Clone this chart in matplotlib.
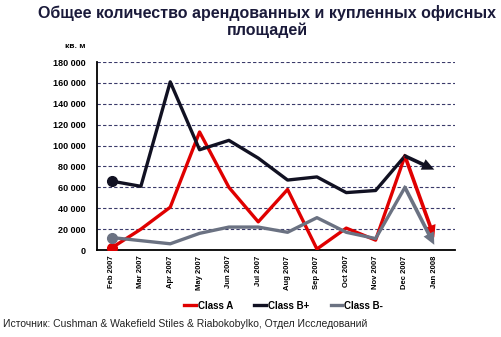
import matplotlib.pyplot as plt
import numpy as np

months = ['Feb 2007', 'Mar 2007', 'Apr 2007', 'May 2007', 'Jun 2007', 'Jul 2007',
          'Aug 2007', 'Sep 2007', 'Oct 2007', 'Nov 2007', 'Dec 2007', 'Jan 2008']
class_a = [2000, 20000, 41000, 113000, 60000, 27000, 58000, 1000, 21000, 9500, 90000, 12000]
class_bp = [66000, 61000, 161000, 96000, 105000, 88000, 67000, 70000, 55000, 57000, 90000, 77000]
class_bm = [12000, 9000, 6000, 16000, 22000, 22000, 17000, 31000, 17000, 11000, 60000, 5000]

series = [('Class A', class_a, '#e00000'),
          ('Class B+', class_bp, '#111122'),
          ('Class B-', class_bm, '#6b7282')]

plt.rcParams['font.family'] = ['Liberation Sans', 'DejaVu Sans']

fig = plt.figure(figsize=(5.02, 3.37), dpi=100)
ax = fig.add_axes([0.193, 0.258, 0.713, 0.558])

x = np.arange(len(months))
for name, vals, col in series:
    # line up to the second last point, last segment drawn as an arrow
    ax.plot(x[:-1], vals[:-1], color=col, lw=2.4, label=name, zorder=3)
    ax.plot(x[0], vals[0], 'o', color=col, ms=7, zorder=4)
    ax.annotate('', xy=(x[-1], vals[-1]), xytext=(x[-2], vals[-2]),
                arrowprops=dict(arrowstyle='simple,head_length=0.8,head_width=0.75,tail_width=0.24',
                                color=col, lw=0, mutation_scale=11,
                                shrinkA=0, shrinkB=0),
                zorder=4)

ax.set_xlim(-0.5, len(months) - 0.3)
ax.set_ylim(0, 180000)
ax.set_yticks(np.arange(0, 180001, 20000))
ax.set_yticklabels(['0'] + [f'{v // 1000} 000' for v in range(20000, 180001, 20000)],
                   fontsize=6.5, fontweight='bold')
ax.set_xticks(x)
ax.set_xticklabels(months, rotation=90, fontsize=5.5, fontweight='bold')
ax.tick_params(axis='x', length=0, pad=4)
ax.tick_params(axis='y', length=0, pad=8)
ax.grid(axis='y', linestyle=(0, (3, 2)), color='#3a3a6a', lw=0.8)
ax.set_axisbelow(True)
for s in ['top', 'right']:
    ax.spines[s].set_visible(False)
ax.spines['left'].set_linewidth(1.3)
ax.spines['bottom'].set_linewidth(1.3)

fig.text(0.532, 0.985, 'Общее количество арендованных и купленных офисных\nплощадей',
         ha='center', va='top', fontsize=11.5, fontweight='bold', color='#1a1a3a',
         linespacing=1.1)
fig.text(0.13, 0.858, 'кв. м', fontsize=6, fontweight='bold')

leg = fig.legend(loc='center', bbox_to_anchor=(0.565, 0.093), ncol=3, frameon=False,
                 prop={'size': 7, 'weight': 'bold'}, handlelength=1.2,
                 handletextpad=0.2, columnspacing=2.2)
fig.text(0.006, 0.03, 'Источник: Cushman & Wakefield Stiles & Riabokobylko, Отдел Исследований',
         fontsize=7.5, color='#222222')

fig.savefig('out.png', dpi=100)
